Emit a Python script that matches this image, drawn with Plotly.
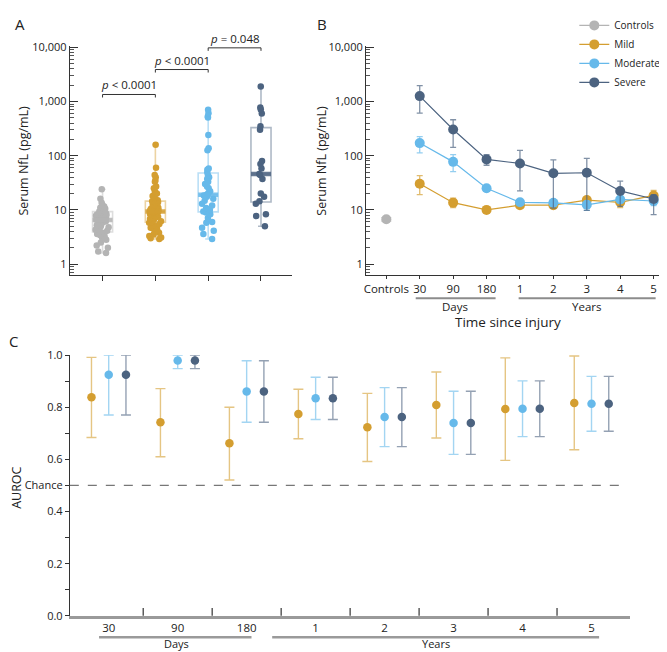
import math
import plotly.graph_objects as go

W, H = 667, 652
FONT = "Open Sans"

# ---------------- Panel A data ----------------
group_names = ["Controls", "Mild", "Moderate", "Severe"]
controls_nfl = [24, 16, 13.5, 12.5, 11.5, 11, 10.5, 10, 9.6, 9.3, 9, 8.8, 8.5, 8.2, 8, 7.8,
                7.5, 7.3, 7.1, 6.9, 6.8, 6.6, 6.5, 6.3, 6.1, 5.8, 5.5, 5.2, 5, 4.8, 4.5, 4.3,
                4.1, 4, 3.8, 3.6, 3.4, 3.2, 3, 2.8, 2.5, 2.2, 2, 1.7, 1.6]
mild_nfl = [160, 60, 44, 40, 35, 33, 27, 25, 22, 20, 19, 18, 17, 16, 15, 14.5, 14, 13.5,
            13, 12.5, 12, 11.5, 11, 10.5, 10, 9.8, 9.5, 9.3, 9.2, 9, 8.7, 8.4, 8.1, 7.8,
            7.5, 7.2, 7, 6.8, 6.5, 6.2, 6, 5.8, 5.5, 5.2, 5, 4.7, 4.5, 4.2, 4, 3.8, 3.5,
            3.3, 3.1, 3, 2.9]
moderate_nfl = [706, 610, 528, 510, 240, 138, 126, 58, 55, 49, 43, 40, 37, 33, 30, 27, 25,
                22, 20, 19, 18.5, 17.5, 16, 14.8, 13, 12, 10.8, 10, 9.3, 9, 8.3, 7.1, 6,
                5.8, 4.7, 4.1, 3.6, 2.9]
severe_nfl = [1900, 780, 710, 600, 350, 300, 80, 70, 58, 46, 44, 37, 20, 17.5, 14.5, 13,
              8.3, 7.7, 5]
box_lower = [1.6, 2.9, 2.9, 5.0]
box_q1 = [3.9, 5.9, 9.2, 14.0]
box_median = [6.5, 9.3, 19.0, 46.0]
box_q3 = [9.3, 14.5, 48.0, 330.0]
box_upper = [24.0, 160.0, 706.0, 1900.0]
p_labels = ["<i>p</i> &lt; 0.0001", "<i>p</i> &lt; 0.0001", "<i>p</i> = 0.048"]
p_pairs = [(0, 1), (1, 2), (2, 3)]
p_heights = [1350, 3900, 9800]

# ---------------- Panel B data ----------------
time_labels = ["Controls", "30", "90", "180", "1", "2", "3", "4", "5"]
controls_mean = [6.7]
controls_lo = [6.2]
controls_hi = [7.2]
mild_mean = [30.3, 13.6, 10.0, 12.2, 12.2, 15.2, 13.8, 18.5]
mild_lo = [19.2, 11.0, 9.0, 11.2, 11.0, 13.5, 11.0, 15.0]
mild_hi = [43, 16.5, 11.2, 13.5, 14, 17.5, 16, 23]
moderate_mean = [171, 77, 25, 13.8, 13.5, 12.4, 15.6, 14.6]
moderate_lo = [113, 50.7, 22.5, 12.5, 12, 9.8, 13.5, 12]
moderate_hi = [225, 105, 28, 15, 15, 14.5, 18, 17]
severe_mean = [1260, 305, 85.5, 72, 47.3, 48.5, 22.4, 15.9]
severe_lo = [610, 143, 66.7, 22.4, 10.8, 9.8, 11.6, 8.2]
severe_hi = [1960, 461, 105, 126, 84, 89, 34, 19]

# ---------------- Panel C data ----------------
auroc_labels = ["30", "90", "180", "1", "2", "3", "4", "5"]
mild_auc = [0.838, 0.742, 0.662, 0.774, 0.723, 0.808, 0.793, 0.816]
mild_auc_lo = [0.684, 0.610, 0.521, 0.679, 0.592, 0.682, 0.596, 0.637]
mild_auc_hi = [0.991, 0.871, 0.800, 0.869, 0.853, 0.935, 0.989, 0.996]
moderate_auc = [0.924, 0.979, 0.860, 0.834, 0.762, 0.739, 0.794, 0.813]
moderate_auc_lo = [0.770, 0.948, 0.742, 0.753, 0.649, 0.619, 0.687, 0.708]
moderate_auc_hi = [1.0, 1.0, 0.978, 0.915, 0.875, 0.861, 0.901, 0.918]
severe_auc = [0.924, 0.979, 0.860, 0.834, 0.762, 0.739, 0.794, 0.813]
severe_auc_lo = [0.770, 0.948, 0.742, 0.753, 0.649, 0.619, 0.687, 0.708]
severe_auc_hi = [1.0, 1.0, 0.978, 0.915, 0.875, 0.861, 0.901, 0.918]

# ---------------- styles ----------------
col = {"Controls": (180, 180, 180), "Mild": (212, 158, 48),
       "Moderate": (102, 185, 234), "Severe": (76, 99, 128)}


def c(name, a=1.0):
    r, g, b = col[name]
    return f"rgba({r},{g},{b},{a})"


def px_x(p):
    return p / W


def px_y(p):
    return 1 - p / H


AX = "#333333"
fig = go.Figure()

# ---------------- Panel A ----------------
a_values = [controls_nfl, mild_nfl, moderate_nfl, severe_nfl]
BW = 0.38
for i, g in enumerate(group_names):
    fig.add_trace(go.Box(
        x=[i], q1=[box_q1[i]], median=[box_median[i]], q3=[box_q3[i]],
        lowerfence=[box_lower[i]], upperfence=[box_upper[i]],
        width=BW, whiskerwidth=0.3, boxpoints=False,
        line=dict(color=c(g, 0.45), width=1.6), fillcolor="rgba(0,0,0,0)",
        xaxis="x", yaxis="y", showlegend=False, hoverinfo="skip"))
    fig.add_trace(go.Box(
        x=[i] * len(a_values[i]), y=a_values[i], boxpoints="all", jitter=0.75, pointpos=0,
        width=BW, marker=dict(color=c(g), size=6.5), line=dict(width=0, color="rgba(0,0,0,0)"),
        fillcolor="rgba(0,0,0,0)", whiskerwidth=0,
        xaxis="x", yaxis="y", showlegend=False))
    fig.add_trace(go.Scatter(
        x=[i - BW / 2, i + BW / 2], y=[box_median[i], box_median[i]], mode="lines",
        line=dict(color=c(g, 0.85), width=4.5), xaxis="x", yaxis="y",
        showlegend=False, hoverinfo="skip"))

annotations = []
for (a, b), h, lab in zip(p_pairs, p_heights, p_labels):
    fig.add_trace(go.Scatter(
        x=[a, a, b, b], y=[h * 0.88, h, h, h * 0.88], mode="lines",
        line=dict(color=AX, width=1), xaxis="x", yaxis="y", showlegend=False,
        hoverinfo="skip", cliponaxis=False))
    annotations.append(dict(x=(a + b) / 2, y=math.log10(h), xref="x", yref="y", text=lab,
                            showarrow=False, yanchor="bottom", yshift=0,
                            font=dict(size=11.5, color="#222", family=FONT)))

# ---------------- Panel B ----------------
fig.add_trace(go.Scatter(
    x=[0], y=controls_mean, mode="lines+markers", name="Controls",
    marker=dict(color=c("Controls"), size=10), line=dict(color=c("Controls"), width=1.2),
    error_y=dict(type="data", symmetric=False,
                 array=[h - m for h, m in zip(controls_hi, controls_mean)],
                 arrayminus=[m - l for l, m in zip(controls_lo, controls_mean)],
                 color=c("Controls", 0.7), thickness=1.2, width=5),
    xaxis="x2", yaxis="y2"))
for g, mean, lo, hi in [("Mild", mild_mean, mild_lo, mild_hi),
                        ("Moderate", moderate_mean, moderate_lo, moderate_hi),
                        ("Severe", severe_mean, severe_lo, severe_hi)]:
    fig.add_trace(go.Scatter(
        x=list(range(1, len(time_labels))), y=mean, mode="lines+markers", name=g,
        marker=dict(color=c(g), size=10), line=dict(color=c(g), width=1.2),
        error_y=dict(type="data", symmetric=False,
                     array=[h - m for h, m in zip(hi, mean)],
                     arrayminus=[m - l for l, m in zip(lo, mean)],
                     color=c(g, 0.7), thickness=1.3, width=3),
        xaxis="x2", yaxis="y2"))

# ---------------- Panel C ----------------
offsets = {"Mild": -0.25, "Moderate": 0.0, "Severe": 0.25}
for g, v, lo, hi in [("Mild", mild_auc, mild_auc_lo, mild_auc_hi),
                     ("Moderate", moderate_auc, moderate_auc_lo, moderate_auc_hi),
                     ("Severe", severe_auc, severe_auc_lo, severe_auc_hi)]:
    fig.add_trace(go.Scatter(
        x=[k + offsets[g] for k in range(len(auroc_labels))], y=v, mode="markers",
        marker=dict(color=c(g), size=8.5),
        error_y=dict(type="data", symmetric=False,
                     array=[h - m for h, m in zip(hi, v)],
                     arrayminus=[m - l for l, m in zip(lo, v)],
                     color=c(g, 0.6), thickness=1.4, width=5),
        xaxis="x3", yaxis="y3", showlegend=False, cliponaxis=False))

# ---------------- axes ----------------
log_minor = [m * 10 ** e for e in range(-1, 4) for m in range(2, 10)]
yA = dict(type="log", range=[-0.2, 4.02], tickvals=[1, 10, 100, 1000, 10000],
          ticktext=["1", "10", "100", "1,000", "10,000"], ticks="inside", ticklen=8,
          tickcolor=AX, showline=True, linecolor=AX, linewidth=1, showgrid=False,
          zeroline=False, tickfont=dict(size=11, color="#222", family=FONT),
          minor=dict(tickmode="array", tickvals=log_minor, ticks="inside", ticklen=4,
                     tickcolor="#555", showgrid=False))

layout = dict(
    width=W, height=H, margin=dict(l=0, r=0, t=0, b=0),
    paper_bgcolor="white", plot_bgcolor="white",
    font=dict(family=FONT, color="#222"),
    boxmode="overlay",
    xaxis=dict(domain=[px_x(60), px_x(283)], range=[-0.62, 3.59], tickvals=[0, 1, 2, 3],
               showticklabels=False, ticks="outside", ticklen=5, tickcolor=AX,
               showline=True, linecolor=AX, linewidth=1, showgrid=False, zeroline=False,
               anchor="y"),
    yaxis=dict(domain=[px_y(265), px_y(31)], anchor="x", **yA),
    xaxis2=dict(domain=[px_x(357), px_x(665)], range=[-0.61, 8.58],
                tickvals=list(range(len(time_labels))), ticktext=time_labels,
                ticks="outside", ticklen=3, tickcolor=AX, showline=True, linecolor=AX,
                linewidth=1, showgrid=False, zeroline=False, anchor="y2",
                tickfont=dict(size=11.5, color="#222", family=FONT)),
    yaxis2=dict(domain=[px_y(265), px_y(31)], anchor="x2", **yA),
    xaxis3=dict(domain=[px_x(60), px_x(622)], range=[-0.564, 7.56],
                tickvals=list(range(len(auroc_labels))), ticktext=auroc_labels,
                ticks="", showline=True, linecolor="#9a9a9a", linewidth=2.5,
                showgrid=False, zeroline=False, anchor="y3",
                tickfont=dict(size=11.5, color="#222", family=FONT)),
    yaxis3=dict(domain=[px_y(614), px_y(347)], range=[0, 1.0], anchor="x3",
                tickvals=[0, 0.2, 0.4, 0.5, 0.6, 0.8, 1.0],
                ticktext=["0.0", "0.2", "0.4", "Chance", "0.6", "0.8", "1.0"],
                ticks="outside", ticklen=4, tickcolor=AX, showline=True, linecolor=AX,
                linewidth=1, showgrid=False, zeroline=False,
                tickfont=dict(size=11, color="#222", family=FONT),
                minor=dict(tickvals=[0.1, 0.3, 0.7, 0.9], ticks="outside", ticklen=4,
                           tickcolor=AX, showgrid=False)),
    legend=dict(x=px_x(566), y=1.008, xanchor="left", yanchor="top",
                font=dict(size=10, color="#222", family=FONT), tracegroupgap=0,
                itemwidth=30, bgcolor="rgba(0,0,0,0)",
                entrywidth=88, entrywidthmode="pixels"),
)

shapes = []
# Panel B group lines
for x0, x1 in [(0.88, 3.27), (3.96, 8.06)]:
    shapes.append(dict(type="line", xref="x2", yref="paper", x0=x0, x1=x1,
                       y0=px_y(289), y1=px_y(289), line=dict(color="#8c8c8c", width=2)))
# Panel C group lines
for x0, x1 in [(-0.14, 2.07), (2.37, 7.11)]:
    shapes.append(dict(type="line", xref="x3", yref="paper", x0=x0, x1=x1,
                       y0=px_y(636), y1=px_y(636), line=dict(color="#9a9a9a", width=2.5)))
# Panel C category boundary ticks
for k in range(len(auroc_labels) - 1):
    shapes.append(dict(type="line", xref="x3", yref="y3", ysizemode="pixel", yanchor=0,
                       x0=k + 0.5, x1=k + 0.5, y0=0, y1=8, line=dict(color=AX, width=1.2)))
# Chance line
shapes.append(dict(type="line", xref="x3 domain", yref="y3", x0=0, x1=0.99, y0=0.5, y1=0.5,
                   line=dict(color="#777", width=1.3, dash="dash")))
layout["shapes"] = shapes


def ann(text, x, y, size=12, angle=0, xref="paper", yref="paper", xanchor="center"):
    return dict(text=text, x=x, y=y, xref=xref, yref=yref, showarrow=False,
                textangle=angle, xanchor=xanchor, yanchor="middle",
                font=dict(size=size, color="#222", family=FONT))


annotations += [
    ann("A", px_x(10), px_y(8), size=15),
    ann("B", px_x(313), px_y(8), size=15),
    ann("C", px_x(4), px_y(333), size=15),
    ann("Serum NfL (pg/mL)", px_x(14), px_y(148), size=12.5, angle=-90),
    ann("Serum NfL (pg/mL)", px_x(313), px_y(148), size=12.5, angle=-90),
    ann("AUROC", px_x(7), px_y(483), size=12.5, angle=-90),
    ann("Days", 2.07, px_y(297), size=11.5, xref="x2"),
    ann("Years", 6.0, px_y(297), size=11.5, xref="x2"),
    ann("Time since injury", 3.63, px_y(313), size=13.5, xref="x2"),
    ann("Days", 0.98, px_y(642), size=11, xref="x3"),
    ann("Years", 4.75, px_y(642), size=11, xref="x3"),
]
layout["annotations"] = annotations

fig.update_layout(**layout)
fig.write_html("out.html")
